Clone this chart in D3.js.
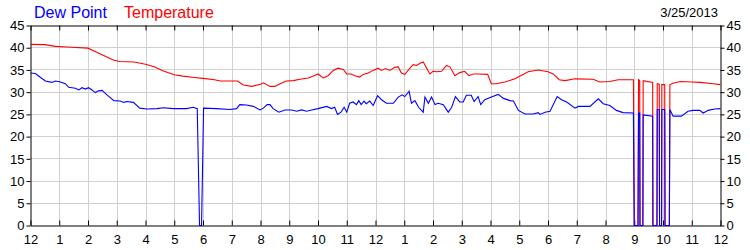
<!DOCTYPE html>
<html>
<head>
<meta charset="utf-8">
<script src="https://cdn.jsdelivr.net/npm/d3@7"></script>
<style>
  html, body { margin: 0; padding: 0; background: #fff; }
  svg { display: block; font-family: "Liberation Sans", Arial, sans-serif; }
</style>
</head>
<body>
<svg id="chart" width="750" height="250"></svg>
<script>
// ---- data ----
const xTickLabels = ["12","1","2","3","4","5","6","7","8","9","10","11","12","1","2","3","4","5","6","7","8","9","10","11","12"];
const yTicks = [0,5,10,15,20,25,30,35,40,45];
const seriesNames = ["Dew Point", "Temperature"];
const dateLabel = "3/25/2013";

const tempHours = [0,0.5,0.87,1.27,2.0,2.3,2.9,3.1,3.6,4.0,4.3,4.6,5.0,5.3,5.7,6.0,6.4,6.6,7.2,7.4,7.7,8.0,8.1,8.33,8.5,8.68,8.9,9.14,9.37,9.66,9.9,10.0,10.18,10.35,10.53,10.7,10.88,11.0,11.15,11.28,11.45,11.57,11.75,11.92,12.09,12.2,12.35,12.5,12.67,12.79,12.9,13.02,13.2,13.31,13.43,13.55,13.66,13.78,13.89,14.0,14.12,14.3,14.47,14.59,14.76,14.93,15.1,15.25,15.4,15.57,15.9,16.03,16.2,16.5,16.85,17.08,17.31,17.66,18.0,18.18,18.39,18.59,18.94,19.57,19.8,20.15,20.44,20.97,21.0,21.13,21.15,21.19,21.2,21.3,21.31,21.64,21.65,21.79,21.8,21.87,21.88,21.95,21.96,22.06,22.07,22.22,22.24,22.35,22.6,23.0,23.3,23.75,24.0];
const tempValues = [40.75,40.7,40.3,40.15,39.9,39.0,37.2,36.9,36.8,36.3,35.7,34.8,33.9,33.6,33.3,33.1,32.8,32.5,32.5,31.6,31.3,31.8,32.1,31.3,31.3,31.9,32.5,32.6,32.9,33.2,33.8,34.1,33.2,33.7,34.9,35.4,35.1,34.1,34.1,33.7,33.4,34.0,34.3,34.9,35.4,34.9,35.3,34.9,35.6,35.7,34.3,34.0,35.4,36.2,36.0,36.5,36.8,35.4,34.1,34.7,34.6,34.7,36.0,35.7,33.7,34.4,34.7,33.7,34.1,34.1,34.0,31.9,31.9,32.3,33.0,33.8,34.6,35.0,34.6,34.1,32.8,32.6,33.0,32.9,32.3,32.4,32.8,32.8,0,0,32.8,32.6,0,0,32.6,32.2,0,0,31.9,31.8,0,0,31.7,31.7,0,0,31.7,32.0,32.4,32.3,32.2,31.9,31.7];

const dewHours = [0,0.17,0.35,0.52,0.75,0.87,1.04,1.21,1.33,1.56,1.68,1.79,1.91,2.02,2.14,2.25,2.37,2.49,2.66,2.9,3.12,3.24,3.35,3.58,3.8,4.05,4.4,4.62,4.97,5.43,5.66,5.8,5.88,5.95,6.02,6.47,6.94,7.17,7.28,7.51,7.75,7.98,8.1,8.23,8.33,8.44,8.64,8.85,9.08,9.26,9.43,9.6,9.78,10.0,10.3,10.47,10.58,10.68,10.8,10.91,11.0,11.1,11.22,11.34,11.42,11.5,11.6,11.68,11.8,11.92,12.07,12.21,12.38,12.62,12.79,12.93,13.02,13.17,13.25,13.37,13.5,13.66,13.72,13.84,13.95,14.07,14.18,14.36,14.53,14.65,14.78,14.93,15.05,15.16,15.33,15.43,15.57,15.66,15.8,16.03,16.27,16.45,16.68,16.8,16.97,17.2,17.49,17.66,17.72,17.9,18.07,18.32,18.47,18.65,18.94,19.06,19.46,19.75,19.92,20.15,20.38,20.61,20.97,21.0,21.13,21.15,21.19,21.2,21.3,21.31,21.64,21.65,21.79,21.8,21.87,21.88,21.95,21.96,22.06,22.07,22.22,22.24,22.35,22.64,22.87,23.05,23.28,23.4,23.57,23.8,24.0];
const dewValues = [34.3,34.2,33.3,32.5,32.2,32.5,32.3,31.9,31.1,30.9,30.5,31.0,30.7,31.0,30.5,29.9,30.3,30.4,29.4,28.1,28.0,27.7,27.9,27.7,26.4,26.2,26.3,26.5,26.3,26.3,26.6,26.3,0,0,26.4,26.3,26.1,26.3,27.2,27.1,26.8,26.0,26.4,27.2,27.2,26.3,25.5,26.0,26.0,25.7,26.0,25.7,26.0,26.3,26.8,26.3,26.6,25.0,25.5,26.6,25.5,27.5,27.8,27.2,28.1,27.2,28.0,27.4,28.0,27.0,29.2,28.3,27.5,27.5,28.9,29.4,29.0,30.2,27.5,28.1,26.6,25.5,28.9,27.5,28.9,27.2,27.5,27.2,25.5,26.6,29.0,27.8,27.8,29.3,29.3,27.9,29.0,27.2,28.3,28.9,29.5,28.6,28.1,28.0,25.9,25.1,25.1,25.4,25.0,25.5,25.7,29.0,28.3,27.8,26.4,26.8,26.8,28.5,27.4,27.0,25.9,25.4,25.3,0,0,25.3,25.3,0,0,24.9,24.6,0,0,26.1,26.1,0,0,26.1,26.1,0,0,26.1,24.6,24.6,25.7,25.9,25.9,25.3,25.9,26.2,26.3];

// ---- drawing ----
(function () {
const svg = d3.select("#chart");
const x = d3.scaleLinear().domain([0, 24]).range([30.5, 720.5]);
const y = d3.scaleLinear().domain([0, 45]).range([225.5, 25.5]);
const hourTicks = d3.range(0, 25);

// gridlines
const grid = svg.append("g").attr("stroke", "#d0d0d0").attr("stroke-width", 1);
grid.selectAll(".gx").data(hourTicks.slice(1, -1)).enter().append("line")
  .attr("x1", d => Math.round(x(d)) + 0.5).attr("x2", d => Math.round(x(d)) + 0.5)
  .attr("y1", y(45)).attr("y2", y(0));
grid.selectAll(".gy").data(yTicks.slice(1, -1)).enter().append("line")
  .attr("y1", d => Math.round(y(d) - 0.5) + 0.5).attr("y2", d => Math.round(y(d) - 0.5) + 0.5)
  .attr("x1", x(0)).attr("x2", x(24));

// axes
const fontSize = "13px";
const axBottom = svg.append("g").attr("transform", `translate(0,${y(0)})`)
  .call(d3.axisBottom(x).tickValues(hourTicks).tickFormat(i => xTickLabels[i]).tickSize(-5).tickSizeOuter(0).tickPadding(9));
const axTop = svg.append("g").attr("transform", `translate(0,${y(45)})`)
  .call(d3.axisTop(x).tickValues(hourTicks).tickFormat("").tickSize(-5).tickSizeOuter(0));
const axLeft = svg.append("g").attr("transform", `translate(${x(0)},0)`)
  .call(d3.axisLeft(y).tickValues(yTicks).tickSize(4).tickSizeOuter(0).tickPadding(2));
const axRight = svg.append("g").attr("transform", `translate(${x(24)},0)`)
  .call(d3.axisRight(y).tickValues(yTicks).tickSize(4).tickSizeOuter(0).tickPadding(2));
[axBottom, axTop, axLeft, axRight].forEach(g => {
  g.attr("font-family", null).attr("font-size", null);
  g.selectAll("text").style("font-size", fontSize).attr("fill", "#000");
  g.selectAll("line").attr("stroke", "#000");
  g.select(".domain").attr("stroke", "#000");
});

// lines
const line = d3.line().x(d => x(d[0])).y(d => y(d[1]));
const tempData = tempHours.map((h, i) => [h, tempValues[i]]);
const dewData = dewHours.map((h, i) => [h, dewValues[i]]);
svg.append("path").datum(tempData).attr("d", line)
  .attr("fill", "none").attr("stroke", "#ff0000").attr("stroke-width", 1.1);
svg.append("path").datum(dewData).attr("d", line)
  .attr("fill", "none").attr("stroke", "#0000ff").attr("stroke-width", 1.1);

// titles
svg.append("text").attr("x", 34).attr("y", 18).attr("fill", "#0000ff")
  .style("font-size", "16px").text(seriesNames[0]);
svg.append("text").attr("x", 124).attr("y", 18).attr("fill", "#ff0000")
  .style("font-size", "16px").text(seriesNames[1]);
svg.append("text").attr("x", 718).attr("y", 17).attr("text-anchor", "end").attr("fill", "#000")
  .style("font-size", "13px").text(dateLabel);
})();
</script>
</body>
</html>
